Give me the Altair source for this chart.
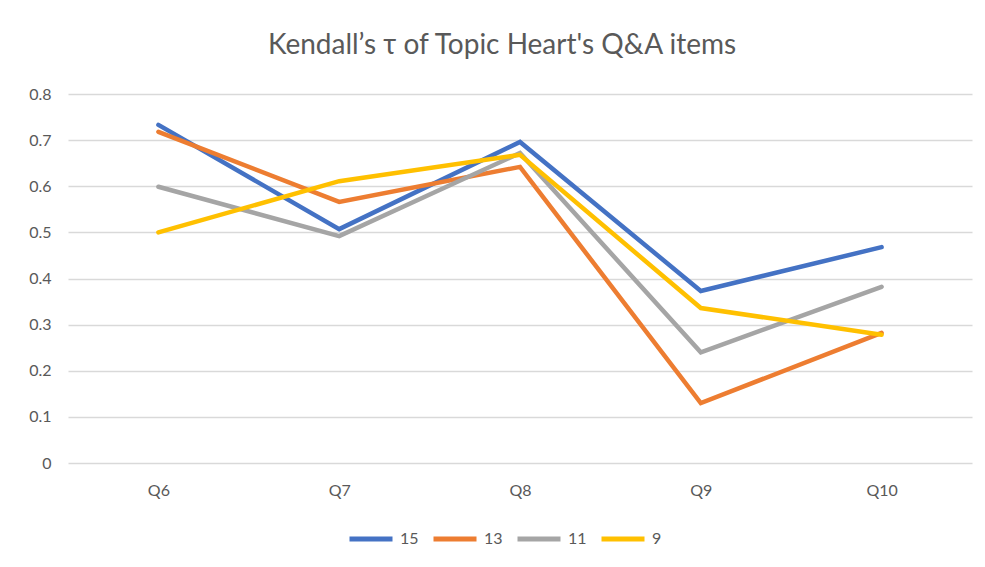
import altair as alt
import pandas as pd

questions = ["Q6", "Q7", "Q8", "Q9", "Q10"]
series_names = ["15", "13", "11", "9"]
s15 = [0.733, 0.507, 0.696, 0.373, 0.468]
s13 = [0.718, 0.566, 0.642, 0.130, 0.282]
s11 = [0.599, 0.492, 0.672, 0.240, 0.382]
s9 = [0.500, 0.611, 0.668, 0.336, 0.278]
colors = ["#4472C4", "#ED7D31", "#A5A5A5", "#FFC000"]
y_ticks = [0, 0.1, 0.2, 0.3, 0.4, 0.5, 0.6, 0.7, 0.8]

rows = []
for name, vals in zip(series_names, [s15, s13, s11, s9]):
    for q, v in zip(questions, vals):
        rows.append({"q": q, "series": name, "value": v})
df = pd.DataFrame(rows)

FONT = "Lato"
GREY = "#595959"

chart = alt.Chart(df).mark_line(strokeWidth=4.5, strokeCap="round", strokeJoin="miter").encode(
    x=alt.X("q:N", sort=questions, title=None,
            scale=alt.Scale(type="point", padding=0.5),
            axis=alt.Axis(labelAngle=0, ticks=False, domain=False, grid=False,
                          labelFontSize=16, labelColor=GREY, labelFont=FONT, labelPadding=19)),
    y=alt.Y("value:Q", title=None,
            scale=alt.Scale(domain=[0, 0.8], nice=False),
            axis=alt.Axis(values=y_ticks, format="~g", ticks=False, domain=False,
                          gridColor="#D9D9D9", gridWidth=1.5,
                          labelFontSize=16, labelColor=GREY, labelFont=FONT, labelPadding=17)),
    color=alt.Color("series:N", sort=series_names,
                    scale=alt.Scale(domain=series_names, range=colors),
                    legend=alt.Legend(title=None, orient="none", direction="horizontal",
                                      legendX=279, legendY=421,
                                      symbolType="stroke", symbolSize=1849, symbolStrokeWidth=5,
                                      labelFontSize=16, labelColor=GREY, labelFont=FONT,
                                      labelOffset=5, columnPadding=4)),
    order=alt.Order("series:N"),
).properties(
    width=904,
    height=369,
    padding={"left": 60, "top": 86, "right": 5, "bottom": 110},
    autosize=alt.AutoSizeParams(type="none"),
    title=alt.TitleParams("Kendall’s τ of Topic Heart's Q&A items",
                          font=FONT, fontSize=28, fontWeight="normal", color=GREY,
                          anchor="middle", dx=-18, offset=26),
).configure(background="white").configure_view(stroke=None)

chart.save("out.html", embed_options={"renderer": "svg", "actions": False})
